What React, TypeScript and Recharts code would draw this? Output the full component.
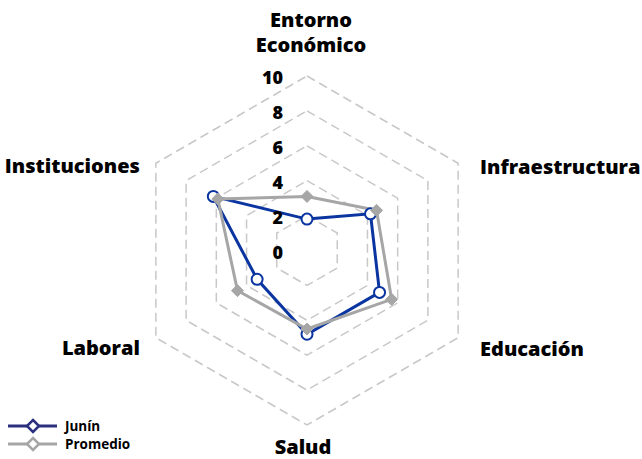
import React from "react";
import { RadarChart, Radar, PolarGrid, PolarAngleAxis, PolarRadiusAxis, Legend } from "recharts";

const categories = ["Entorno Económico", "Infraestructura", "Educación", "Salud", "Laboral", "Instituciones"];
const junin = [1.8, 4.2, 4.8, 4.8, 3.3, 6.2];
const promedio = [3.1, 4.6, 5.6, 4.5, 4.6, 5.9];
const radiusTicks = [0, 2, 4, 6, 8, 10];

const data = categories.map((c, i) => ({ category: c, junin: junin[i], promedio: promedio[i] }));

const FONT = "'Open Sans', Lato, sans-serif";
const BLUE = "#0a34a0";
const GRAY = "#a6a6a6";

const AngleTick = (props: any) => {
  const { x, y, payload, textAnchor } = props;
  const label: string = payload.value;
  const common = { fontFamily: FONT, fontWeight: 800, fontSize: 20, fill: "#000" };
  if (label === "Entorno Económico") {
    return (
      <text x={x + 4} y={y} textAnchor="middle" {...common}>
        <tspan x={x + 4} y={y - 41}>Entorno</tspan>
        <tspan x={x + 4} y={y - 16}>Económico</tspan>
      </text>
    );
  }
  let dx = 0;
  let dy = 0;
  if (textAnchor === "start") { dx = 15; dy = 7; }
  else if (textAnchor === "end") { dx = -9; dy = 6; }
  else { dx = -4; dy = 13; }
  return (
    <text x={x + dx} y={y + dy} textAnchor={textAnchor} dominantBaseline="central" {...common}>
      {label}
    </text>
  );
};

const RadiusTick = (props: any) => {
  const { x, y, payload } = props;
  return (
    <text x={x - 24} y={y + 1} textAnchor="end" dominantBaseline="central" fontFamily={FONT} fontWeight={800} fontSize={18} fill="#000">
      {payload.value}
    </text>
  );
};

const CircleDot = (props: any) => {
  const { cx, cy } = props;
  return <circle key={`c-${cx}-${cy}`} cx={cx} cy={cy} r={5.5} fill="#fff" stroke={BLUE} strokeWidth={2} />;
};

const DiamondDot = (props: any) => {
  const { cx, cy } = props;
  const s = 6;
  return (
    <path
      key={`d-${cx}-${cy}`}
      d={`M${cx},${cy - s}L${cx + s},${cy}L${cx},${cy + s}L${cx - s},${cy}Z`}
      fill={GRAY}
      stroke={GRAY}
      strokeWidth={1}
    />
  );
};

const legendItems = [
  { name: "Junín", color: "#2a2f7e" },
  { name: "Promedio", color: GRAY },
];

const LegendContent = () => (
  <svg width={160} height={40}>
    {legendItems.map((it, i) => {
      const y = 10 + i * 18;
      return (
        <g key={it.name}>
          <line x1={8} x2={57} y1={y} y2={y} stroke={it.color} strokeWidth={3} />
          <path d={`M33,${y - 6}L39,${y}L33,${y + 6}L27,${y}Z`} fill="#fff" stroke={it.color} strokeWidth={2.5} />
          <text x={65} y={y} dominantBaseline="central" fontFamily={FONT} fontWeight={700} fontSize={13.5} fill="#000">
            {it.name}
          </text>
        </g>
      );
    })}
  </svg>
);

export default function App() {
  return (
    <div style={{ position: "absolute", left: 0, top: 0 }}>
      <RadarChart width={642} height={459} data={data} cx={307} cy={250.5} outerRadius={174.5} margin={{ top: 0, right: 0, bottom: 0, left: 0 }}>
        <PolarGrid gridType="polygon" radialLines={false} stroke="#c8c8c8" strokeWidth={1.5} strokeDasharray="9 5" />
        <PolarAngleAxis dataKey="category" tick={<AngleTick />} tickLine={false} axisLine={false} />
        <PolarRadiusAxis angle={90} domain={[0, 10]} ticks={radiusTicks} tickCount={6} axisLine={false} tick={<RadiusTick />} />
        <Radar name="Junín" dataKey="junin" stroke={BLUE} strokeWidth={3} fill="none" fillOpacity={0} dot={<CircleDot />} isAnimationActive={false} />
        <Radar name="Promedio" dataKey="promedio" stroke={GRAY} strokeWidth={3} fill="none" fillOpacity={0} dot={<DiamondDot />} isAnimationActive={false} />
        <Legend content={<LegendContent />} wrapperStyle={{ position: "absolute", left: 0, top: 416, width: 160, height: 40 }} />
      </RadarChart>
    </div>
  );
}
